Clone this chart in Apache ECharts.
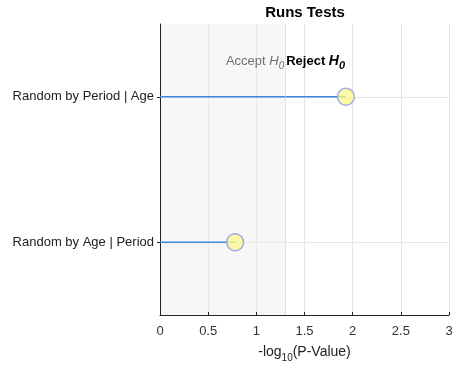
<!DOCTYPE html>
<html><head><meta charset="utf-8">
<script src="https://cdn.jsdelivr.net/npm/echarts@6/dist/echarts.min.js"></script>
<style>html,body{margin:0;padding:0;background:#fff}#c{width:457px;height:368px}</style>
</head><body><div id="c"></div>
<script>
const categories = ['Random by Age | Period', 'Random by Period | Age'];
const values = [0.78, 1.93];
const threshold = 1.3;
const xTicks = [0, 0.5, 1, 1.5, 2, 2.5, 3];

const FONT = 'Liberation Sans';
const chart = echarts.init(document.getElementById('c'));
chart.setOption({
  animation: false,
  grid: { left: 160, right: 8, top: 24, bottom: 53 },
  xAxis: {
    type: 'value', min: 0, max: 3, interval: 0.5,
    axisLine: { show: true, lineStyle: { color: '#222', width: 1 } },
    axisTick: { show: true, inside: true, length: 3, lineStyle: { color: '#222' } },
    axisLabel: { fontFamily: FONT, fontSize: 13, color: '#333', margin: 10,
      formatter: v => String(xTicks.find(t => Math.abs(t - v) < 1e-9) ?? v) },
    splitLine: { show: true, lineStyle: { color: '#e6e6e6', width: 1 } },
    name: '{a|-log}{s|10}{a|(P-Value)}', nameLocation: 'middle', nameGap: 27,
    nameTextStyle: { fontFamily: FONT, color: '#222',
      rich: { a: { fontFamily: FONT, fontSize: 14, color: '#222' },
              s: { fontFamily: FONT, fontSize: 10, color: '#222', padding: [11, 0, 0, 0] } } }
  },
  yAxis: {
    type: 'category', data: categories, boundaryGap: true,
    axisLine: { show: true, lineStyle: { color: '#222', width: 1 } },
    axisTick: { show: true, alignWithLabel: true, length: 3, lineStyle: { color: '#222' } },
    axisLabel: { fontFamily: FONT, fontSize: 13, color: '#222', margin: 6 },
    splitLine: { show: true, alignWithLabel: true, lineStyle: { color: '#e6e6e6' } }
  },
  series: [
    {
      type: 'bar', data: values, barWidth: 1.6, z: 2,
      itemStyle: { color: '#3a8ad6' },
      markArea: {
        silent: true, z: 0, itemStyle: { color: 'rgba(238,238,238,0.45)' },
        data: [[{ xAxis: 0 }, { xAxis: threshold }]]
      },
      markLine: {
        silent: true, symbol: 'none', label: { show: false },
        lineStyle: { type: 'dotted', color: '#c8c8c8', width: 1 },
        data: [{ xAxis: threshold }]
      }
    },
    {
      type: 'scatter', data: values, symbol: 'circle', symbolSize: 17, z: 3,
      itemStyle: { color: '#fbf791', borderColor: '#8c97f0', borderWidth: 1.5 }
    }
  ]
});

const p = chart.convertToPixel({ xAxisIndex: 0, yAxisIndex: 0 }, [threshold, 0]);
chart.setOption({
  graphic: [
    { type: 'text', z: 100, x: 305, y: 13, style: {
      text: 'Runs Tests', align: 'center', verticalAlign: 'middle',
      font: 'bold 15px "Liberation Sans"', fill: '#000' } },
    { type: 'text', z: 100, x: p[0] - 1, y: 61, style: {
      text: '{a|Accept }{i|H}{s|0}', align: 'right', verticalAlign: 'middle',
      rich: { a: { fontFamily: FONT, fontSize: 13, fill: '#707070' },
              i: { fontFamily: FONT, fontSize: 13, fontStyle: 'italic', fill: '#707070' },
              s: { fontFamily: FONT, fontSize: 10, fontStyle: 'italic', fill: '#707070', padding: [10, 0, 0, 0] } } } },
    { type: 'text', z: 100, x: p[0] + 1, y: 61, style: {
      text: '{a|Reject }{i|H}{s|0}', align: 'left', verticalAlign: 'middle',
      rich: { a: { fontFamily: FONT, fontSize: 13, fontWeight: 'bold', fill: '#000' },
              i: { fontFamily: FONT, fontSize: 14, fontWeight: 'bold', fontStyle: 'italic', fill: '#000' },
              s: { fontFamily: FONT, fontSize: 11, fontWeight: 'bold', fontStyle: 'italic', fill: '#000', padding: [10, 0, 0, 0] } } } }
  ]
});
</script></body></html>
